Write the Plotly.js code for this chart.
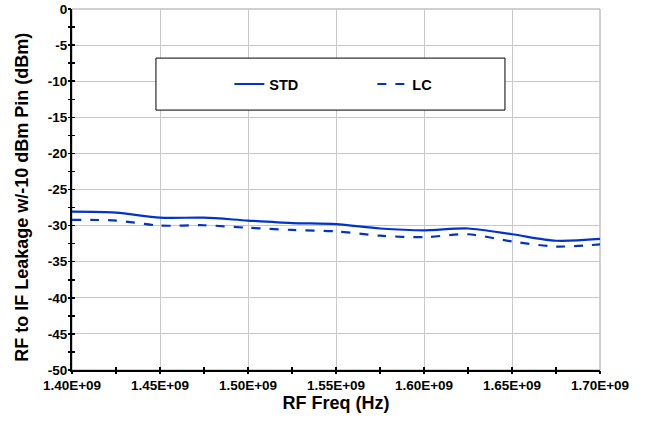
<!DOCTYPE html>
<html>
<head>
<meta charset="utf-8">
<script src="https://cdn.plot.ly/plotly-3.0.1.min.js"></script>
<style>html,body{margin:0;padding:0;background:#fff;}#chart{width:645px;height:425px;}</style>
</head>
<body>
<div id="chart"></div>
<script>
// Data (frequency in Hz, leakage in dBm)
var freqHz = [1.400e9, 1.425e9, 1.450e9, 1.475e9, 1.500e9, 1.525e9, 1.550e9, 1.575e9, 1.600e9, 1.625e9, 1.650e9, 1.675e9, 1.700e9];
var stdLeak = [-28.07, -28.2, -28.9, -28.9, -29.3, -29.65, -29.8, -30.4, -30.65, -30.4, -31.2, -32.1, -31.85];
var lcLeak  = [-29.2, -29.3, -30.0, -29.95, -30.3, -30.6, -30.8, -31.4, -31.6, -31.2, -32.2, -32.9, -32.6];
var xTickVals = [1.40e9, 1.45e9, 1.50e9, 1.55e9, 1.60e9, 1.65e9, 1.70e9];
var xTickText = ["1.40E+09", "1.45E+09", "1.50E+09", "1.55E+09", "1.60E+09", "1.65E+09", "1.70E+09"];
var yTickVals = [0, -5, -10, -15, -20, -25, -30, -35, -40, -45, -50];
var yTickText = ["0", "-5", "-10", "-15", "-20", "-25", "-30", "-35", "-40", "-45", "-50"];
var seriesNames = ["STD", "LC"];
var xTitle = "RF Freq (Hz)";
var yTitle = "RF to IF Leakage w/-10 dBm Pin (dBm)";

var FONT = "'Liberation Sans', Arial, sans-serif";
var BLUE = "#0033cc";
var xRange = [1.40e9, 1.70e9];
var yRange = [-50, 0];

var traces = [
  {x: freqHz, y: stdLeak, name: seriesNames[0], type: "scatter", mode: "lines",
   line: {color: BLUE, width: 2.2, shape: "spline", smoothing: 0.8}},
  {x: freqHz, y: lcLeak, name: seriesNames[1], type: "scatter", mode: "lines",
   line: {color: BLUE, width: 2.2, dash: "dash", shape: "spline", smoothing: 0.8}},
  // invisible helper so the overlaid tick-only axes are drawn
  {x: freqHz, y: stdLeak, xaxis: "x2", yaxis: "y2", type: "scatter", mode: "lines",
   line: {width: 0, color: "rgba(0,0,0,0)"}, showlegend: false, hoverinfo: "skip"}
];

var layout = {
  width: 645, height: 425,
  margin: {l: 72, r: 45, t: 9, b: 55},
  paper_bgcolor: "#fff", plot_bgcolor: "#fff",
  font: {family: FONT, color: "#000"},
  showlegend: true,
  legend: {orientation: "h", x: 0.298, xanchor: "left", y: 0.792, yanchor: "middle",
    bgcolor: "rgba(0,0,0,0)", borderwidth: 0, entrywidth: 98, entrywidthmode: "pixels", itemwidth: 30,
    font: {family: FONT, size: 14.5, color: "#000", weight: "bold"}},
  xaxis: {range: xRange, tickmode: "array", tickvals: xTickVals, ticktext: xTickText,
    tickfont: {family: FONT, size: 13.5, weight: "bold"}, ticks: "inside", ticklen: 3, tickwidth: 1.5, tickcolor: "#000",
    ticklabelstandoff: 2,
    minor: {tickmode: "linear", tick0: 1.40e9, dtick: 0.025e9, ticks: "inside", ticklen: 3, tickwidth: 1.5, tickcolor: "#000", showgrid: false},
    showgrid: true, gridcolor: "#c8c8c8", gridwidth: 1,
    showline: true, linecolor: "#000", linewidth: 2, zeroline: false,
    title: {text: xTitle, font: {family: FONT, size: 18, weight: "bold"}, standoff: 3}},
  yaxis: {range: yRange, tickmode: "array", tickvals: yTickVals, ticktext: yTickText,
    tickfont: {family: FONT, size: 13.5, weight: "bold"}, ticks: "inside", ticklen: 3, tickwidth: 1.5, tickcolor: "#000",
    minor: {tickmode: "linear", tick0: 0, dtick: 2.5, ticks: "inside", ticklen: 3, tickwidth: 1.5, tickcolor: "#000", showgrid: false},
    showgrid: true, gridcolor: "#c8c8c8", gridwidth: 1,
    showline: true, linecolor: "#000", linewidth: 2, zeroline: false},
  xaxis2: {overlaying: "x", anchor: "y", range: xRange, tickmode: "linear", tick0: 1.40e9, dtick: 0.025e9,
    ticks: "outside", ticklen: 3, tickwidth: 1.5, tickcolor: "#000",
    showticklabels: false, showgrid: false, zeroline: false, showline: false},
  yaxis2: {overlaying: "y", anchor: "x", range: yRange, tickmode: "linear", tick0: 0, dtick: 2.5,
    ticks: "outside", ticklen: 3, tickwidth: 1.5, tickcolor: "#000",
    showticklabels: false, showgrid: false, zeroline: false, showline: false},
  annotations: [
    {text: yTitle, xref: "paper", yref: "paper", x: -0.0947, y: 0.48, xanchor: "center", yanchor: "middle",
     textangle: -90, showarrow: false, font: {family: FONT, size: 18, weight: "bold", color: "#000"}}
  ],
  shapes: [
    {type: "rect", xref: "paper", yref: "paper", x0: 0, x1: 1, y0: 0, y1: 1,
     line: {color: "#a0a0a0", width: 1}, fillcolor: "rgba(0,0,0,0)", layer: "below"},
    {type: "rect", xref: "paper", yref: "paper", x0: 0.159, x1: 0.820, y0: 0.720, y1: 0.864,
     line: {color: "#000", width: 1}, fillcolor: "#fff", layer: "above"}
  ]
};

Plotly.newPlot("chart", traces, layout, {displayModeBar: false, staticPlot: true});
</script>
</body>
</html>
